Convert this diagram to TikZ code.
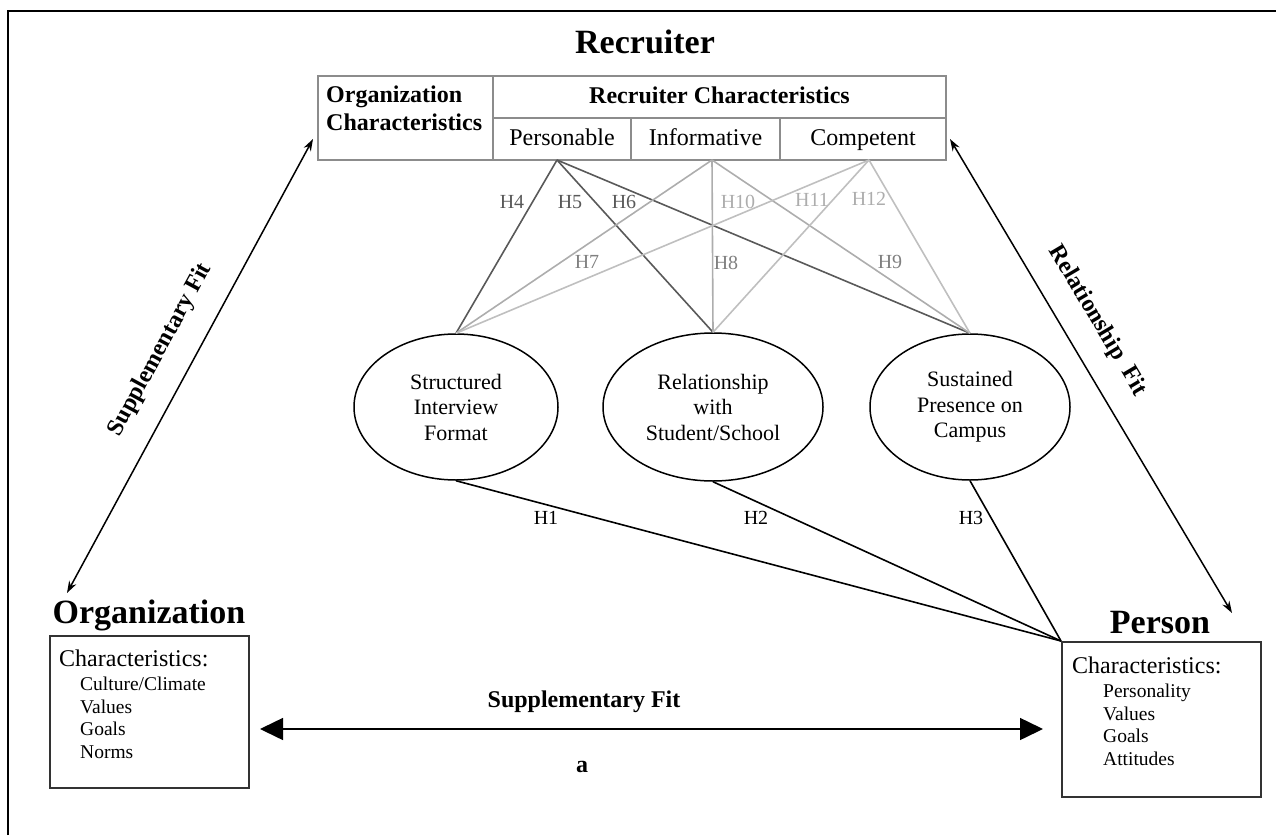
\documentclass[tikz,border=0pt]{standalone}
\usepackage{fontspec}
\setmainfont{Liberation Serif}
\usetikzlibrary{shapes.geometric,arrows.meta,positioning,calc}

\definecolor{persline}{gray}{0.35}
\definecolor{infoline}{gray}{0.68}
\definecolor{compline}{gray}{0.75}
\definecolor{midlabel}{gray}{0.5}

\begin{document}
\begin{tikzpicture}[
    x=1pt, y=-1pt,
    heading/.style={font=\bfseries\fontsize{34}{38}\selectfont, inner sep=0pt},
    cellbox/.style={rectangle, draw=black!45, line width=1.5pt, inner sep=0pt, text height=17pt, text depth=4pt},
    boldtxt/.style={font=\bfseries\fontsize{24}{28}\selectfont},
    plaintxt/.style={font=\fontsize{24}{28}\selectfont},
    oval/.style={ellipse, draw, line width=1.5pt, inner sep=0pt, align=center, font=\fontsize{22}{25.5}\selectfont},
    charbox/.style={rectangle, draw=black!80, line width=2pt, minimum width=199pt, inner sep=0pt},
    itemtxt/.style={font=\fontsize{19.5}{22.5}\selectfont, align=left, anchor=north west, inner sep=0pt},
    hyp/.style={font=\fontsize{20}{22}\selectfont, inner sep=1pt},
    link/.style={line width=1.6pt},
    fitarrow/.style={{Stealth[length=12pt,width=8pt]}-{Stealth[length=12pt,width=8pt]}, line width=1.5pt},
    bigarrow/.style={{Triangle[length=23pt,width=22pt]}-{Triangle[length=23pt,width=22pt]}, line width=1.5pt},
    fitlabel/.style={font=\bfseries\fontsize{24}{28}\selectfont, inner sep=0pt}
]
    \useasboundingbox (0,0) rectangle (1276,835);

    % --- Frame ---
    \draw[line width=2.5pt] (8,835) -- (8,11) -- (1276,11);

    % --- Recruiter table ---
    \node[heading, anchor=base] (rtitle) at (645,53) {Recruiter};
    \node[cellbox, minimum width=175pt, minimum height=84pt] (orgc) at (405.5,118) {};
    \node[boldtxt, align=left, anchor=north west, inner sep=0pt] (orgtxt) at (326,86) {Organization\\Characteristics};
    \node[cellbox, boldtxt, minimum width=453pt, minimum height=42pt] (recc) at (719.5,97) {Recruiter Characteristics};
    \node[cellbox, plaintxt, minimum width=138pt, minimum height=42pt] (pers) at (562,139) {Personable};
    \node[cellbox, plaintxt, minimum width=149pt, minimum height=42pt] (info) at (705.5,139) {Informative};
    \node[cellbox, plaintxt, minimum width=166pt, minimum height=42pt] (comp) at (863,139) {Competent};

    % apex points under the cells
    \coordinate (pA) at (557,160);
    \coordinate (iA) at (712,160);
    \coordinate (cA) at (869,160);

    % --- Recruiter actions ---
    \node[oval, minimum width=204pt, minimum height=146pt] (sif) at (456,407) {Structured\\Interview\\Format};
    \node[oval, minimum width=220pt, minimum height=148pt] (rss) at (713,407) {Relationship\\with\\Student/School};
    \node[oval, minimum width=200pt, minimum height=146pt] (spc) at (970,407) {Sustained\\Presence on\\Campus};

    % --- Hypothesis links ---
    \draw[link, persline] (pA) -- (sif.north);
    \draw[link, persline] (pA) -- (rss.north);
    \draw[link, persline] (pA) -- (spc.north);
    \draw[link, infoline] (iA) -- (sif.north);
    \draw[link, infoline] (iA) -- (rss.north);
    \draw[link, infoline] (iA) -- (spc.north);
    \draw[link, compline] (cA) -- (sif.north);
    \draw[link, compline] (cA) -- (rss.north);
    \draw[link, compline] (cA) -- (spc.north);

    \node[hyp, persline] (h4) at (512,202) {H4};
    \node[hyp, persline] (h5) at (570,202) {H5};
    \node[hyp, persline] (h6) at (624,202) {H6};
    \node[hyp, midlabel] (h7) at (587,262) {H7};
    \node[hyp, midlabel] (h8) at (726,263) {H8};
    \node[hyp, midlabel] (h9) at (890,262) {H9};
    \node[hyp, infoline] (h10) at (738,202) {H10};
    \node[hyp, infoline] (h11) at (812,200) {H11};
    \node[hyp, infoline] (h12) at (869,199) {H12};

    % --- Organization ---
    \node[heading, anchor=base] (orgtitle) at (149,623) {Organization};
    \node[charbox, minimum height=152pt] (obox) at (149.5,712) {};
    \node[itemtxt] (otxt) at (59,650) {{\fontsize{24}{27}\selectfont Characteristics:}\\[1.5pt]
        \hspace*{21pt}Culture/Climate\\ \hspace*{21pt}Values\\ \hspace*{21pt}Goals\\ \hspace*{21pt}Norms};

    % --- Person ---
    \node[heading, anchor=base] (pertitle) at (1160,633) {Person};
    \node[charbox, minimum height=155pt] (pbox) at (1161.5,719.5) {};
    \node[itemtxt] (ptxt) at (1072,657) {{\fontsize{24}{27}\selectfont Characteristics:}\\[1.5pt]
        \hspace*{31pt}Personality\\ \hspace*{31pt}Values\\ \hspace*{31pt}Goals\\ \hspace*{31pt}Attitudes};

    % --- Actions -> Person ---
    \draw[link] (sif.south) -- (pbox.north west);
    \draw[link] (rss.south) -- (pbox.north west);
    \draw[link] (spc.south) -- (pbox.north west);
    \node[hyp] (h1) at (546,518) {H1};
    \node[hyp] (h2) at (756,518) {H2};
    \node[hyp] (h3) at (971,518) {H3};

    % --- Fit arrows ---
    \coordinate (supLo) at (67,593);
    \coordinate (supHi) at (313,139);
    \draw[fitarrow] (supLo) -- node[fitlabel, sloped, above=22pt, pos=0.5] {Supplementary Fit} (supHi);

    \coordinate (relHi) at (950,139);
    \coordinate (relLo) at (1232,613);
    \draw[fitarrow] (relHi) -- node[fitlabel, sloped, above=22pt, pos=0.42] {Relationship\ \ Fit} (relLo);

    \coordinate (botL) at (260,729);
    \coordinate (botR) at (1043,729);
    \draw[bigarrow] (botL) -- (botR);
    \node[fitlabel] (suptxt) at (584,702) {Supplementary Fit};
    \node[fitlabel] (atxt) at (582,767) {a};

\end{tikzpicture}
\end{document}
